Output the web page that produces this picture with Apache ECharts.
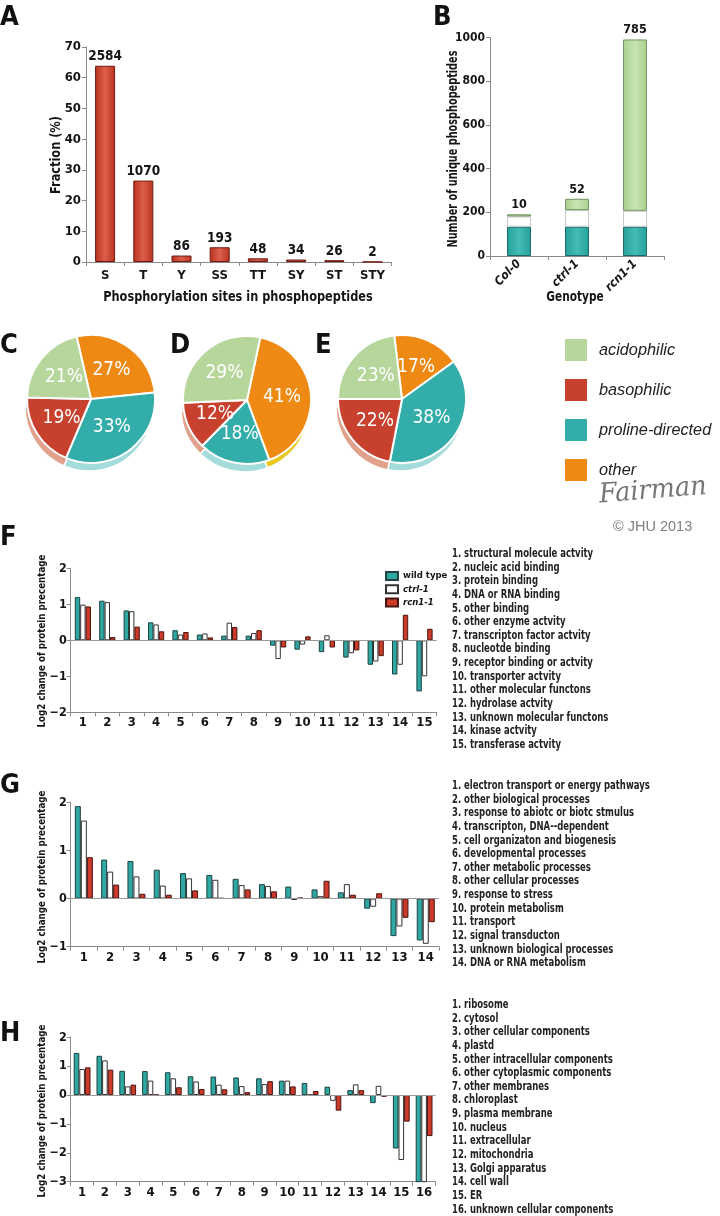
<!DOCTYPE html>
<html>
<head>
<meta charset="utf-8">
<script src="https://cdn.jsdelivr.net/npm/echarts@6/dist/echarts.min.js"></script>
<style>
html,body{margin:0;padding:0;background:#fff;}
#c{width:720px;height:1216px;}
</style>
</head>
<body>
<div id="c"></div>
<script>
// ---------- DATA ----------
const aCats = ['S','T','Y','SS','TT','SY','ST','STY'];
const aFraction = [63.9, 26.5, 2.1, 4.8, 1.2, 0.8, 0.6, 0.05];
const aCounts = [2584, 1070, 86, 193, 48, 34, 26, 2];

const bCats = ['Col-0','ctrl-1','rcn1-1'];
const bShared = [134, 134, 134];
const bWhite = [47, 76, 73];
const bGreen = [10, 52, 785];

const pieNames = ['other','proline-directed','basophilic','acidophilic'];
const legendNames = ['acidophilic','basophilic','proline-directed','other'];
const cVals = [27, 33, 19, 21];
const dVals = [41, 18, 12, 29];
const eVals = [17, 38, 22, 23];

const fCats = ['1','2','3','4','5','6','7','8','9','10','11','12','13','14','15'];
const fWild = [1.20, 1.10, 0.83, 0.50, 0.28, 0.16, 0.13, 0.13, -0.15, -0.26, -0.33, -0.48, -0.68, -0.95, -1.42];
const fCtr  = [0.99, 1.06, 0.81, 0.44, 0.16, 0.19, 0.49, 0.20, -0.52, -0.12, 0.14, -0.36, -0.59, -0.68, -1.00];
const fRcn  = [0.94, 0.09, 0.38, 0.25, 0.23, 0.08, 0.37, 0.28, -0.20, 0.11, -0.20, -0.28, -0.44, 0.71, 0.32];
const fTerms = ['structural molecule actvity','nucleic acid binding','protein binding','DNA or RNA binding','other binding','other enzyme actvity','transcripton factor actvity','nucleotde binding','receptor binding or actvity','transporter actvity','other molecular functons','hydrolase actvity','unknown molecular functons','kinase actvity','transferase actvity'];

const gCats = ['1','2','3','4','5','6','7','8','9','10','11','12','13','14'];
const gWild = [1.92, 0.81, 0.78, 0.60, 0.53, 0.49, 0.41, 0.30, 0.25, 0.19, 0.13, -0.21, -0.78, -0.87];
const gCtr  = [1.62, 0.56, 0.46, 0.27, 0.42, 0.39, 0.28, 0.26, -0.03, 0.05, 0.30, -0.17, -0.58, -0.94];
const gRcn  = [0.86, 0.29, 0.10, 0.08, 0.17, 0.01, 0.19, 0.15, 0.02, 0.37, 0.08, 0.11, -0.40, -0.49];
const gTerms = ['electron transport or energy pathways','other biological processes','response to abiotc or biotc stmulus','transcripton, DNA--dependent','cell organizaton and biogenesis','developmental processes','other metabolic processes','other cellular processes','response to stress','protein metabolism','transport','signal transducton','unknown biological processes','DNA or RNA metabolism'];

const hCats = ['1','2','3','4','5','6','7','8','9','10','11','12','13','14','15','16'];
const hWild = [1.46, 1.36, 0.84, 0.83, 0.79, 0.65, 0.64, 0.61, 0.58, 0.50, 0.42, 0.29, 0.17, -0.28, -1.85, -3.6];
const hCtr  = [0.90, 1.20, 0.30, 0.50, 0.58, 0.47, 0.36, 0.31, 0.38, 0.50, 0.01, -0.20, 0.37, 0.32, -2.25, -3.6];
const hRcn  = [0.96, 0.88, 0.36, 0.01, 0.27, 0.21, 0.20, 0.10, 0.48, 0.30, 0.14, -0.54, 0.17, -0.06, -0.92, -1.42];
const hTerms = ['ribosome','cytosol','other cellular components','plastd','other intracellular components','other cytoplasmic components','other membranes','chloroplast','plasma membrane','nucleus','extracellular','mitochondria','Golgi apparatus','cell wall','ER','unknown cellular components'];

const axisTitleA = ['Phosphorylation sites in phosphopeptides', 'Fraction (%)'];
const axisTitleB = ['Genotype', 'Number of unique phosphopeptides'];
const axisTitleLog = 'Log2 change of protein precentage';

// ---------- STYLE ----------
const FONT = "'Liberation Sans Narrow','DejaVu Sans Condensed','Roboto Condensed',Roboto,sans-serif";
const SANS = "'Liberation Sans',Arial,sans-serif";
const AX = '#8a8a8a';
const TXT = '#151515';
const PIE_COL = {'acidophilic':'#b6d69c','basophilic':'#c8412f','proline-directed':'#33adaa','other':'#ee8a13'};
const RIM_COL = {'acidophilic':'#cfe4bd','basophilic':'#e2a18b','proline-directed':'#a4dbdb','other':'#e8c81e'};
const TEAL = '#2fa8a4', RED = '#cc3a2a';

const minus = v => (v < 0 ? '\u2212' + Math.abs(v) : String(v));

function catAxis(grid, data, extra) {
  return Object.assign({
    type:'category', gridIndex:grid, data:data,
    axisLine:{show:true, onZero:false, lineStyle:{color:AX}},
    axisTick:{show:true, length:4, lineStyle:{color:AX}},
    axisLabel:{color:TXT, fontWeight:'bold', fontSize:13, fontFamily:FONT, margin:4}
  }, extra || {});
}
function valAxis(grid, min, max, interval, extra) {
  return Object.assign({
    type:'value', gridIndex:grid, min:min, max:max, interval:interval,
    splitLine:{show:false},
    axisLine:{show:true, lineStyle:{color:AX}},
    axisTick:{show:true, length:4, lineStyle:{color:AX}},
    axisLabel:{color:TXT, fontWeight:'bold', fontSize:12.5, fontFamily:FONT, margin:4, formatter:minus}
  }, extra || {});
}

function grouped(idx, w, c, r, bw) {
  return [
    {type:'bar', name:'wild type', xAxisIndex:idx, yAxisIndex:idx, data:w, barWidth:bw, barGap:'0%',
     itemStyle:{color:TEAL, borderColor:'#1d4240', borderWidth:1},
     markLine: {silent:true, symbol:'none', label:{show:false}, lineStyle:{color:'#9a9a9a', type:'solid', width:1}, data:[{yAxis:0}]}},
    {type:'bar', name:'ctrl-1', xAxisIndex:idx, yAxisIndex:idx, data:c, barWidth:bw, barGap:'0%',
     itemStyle:{color:'#ffffff', borderColor:'#333', borderWidth:1}},
    {type:'bar', name:'rcn1-1', xAxisIndex:idx, yAxisIndex:idx, data:r, barWidth:bw, barGap:'0%',
     itemStyle:{color:RED, borderColor:'#4a140e', borderWidth:1}}
  ];
}

function pieSeries(vals, cx, cy, start) {
  const r = 64;
  return [
    {type:'pie', silent:true, z:1, radius:r, center:[cx-2, cy+8], startAngle:start, clockwise:true,
     label:{show:false}, labelLine:{show:false}, emphasis:{disabled:true},
     itemStyle:{borderColor:'#fff', borderWidth:1.5},
     data: pieNames.map((n,i)=>({name:n+' rim', value:vals[i], itemStyle:{color:RIM_COL[n]}}))},
    {type:'pie', silent:true, z:2, radius:r, center:[cx, cy], startAngle:start, clockwise:true,
     label:{show:true, position:'inside', color:'#fff', fontSize:19, fontFamily:FONT, formatter:'{c}%'},
     labelLine:{show:false}, emphasis:{disabled:true},
     itemStyle:{borderColor:'#fff', borderWidth:2},
     data: pieNames.map((n,i)=>({name:n, value:vals[i], itemStyle:{color:PIE_COL[n]}}))}
  ];
}

function letter(t, x, y) {
  return {type:'text', x:x, y:y, style:{text:t, fontSize:27, fontWeight:'bold', fontFamily:FONT, fill:'#111'}};
}
function listText(terms, x, y0) {
  return terms.map((t,i)=>({type:'text', x:x, y:y0 + i*13.64, scaleX:0.82,
    style:{text:(i+1)+'. '+t, fontSize:11.5, fontWeight:'bold', fontFamily:FONT, fill:'#222', verticalAlign:'middle'}}));
}
function title(t, x, y, size, sx, vertical) {
  return {type:'text', x:x, y:y, rotation: vertical ? Math.PI/2 : 0, scaleX:sx,
    style:{text:t, fontSize:size, fontWeight:'bold', fontFamily:FONT, fill:TXT, align:'center', verticalAlign:'middle'}};
}

const hgrad = (a,b) => ({type:'linear', x:0, y:0, x2:1, y2:0, colorStops:[{offset:0,color:a},{offset:0.5,color:b},{offset:1,color:a}]});

const option = {
  animation:false,
  backgroundColor:'#fff',
  textStyle:{fontFamily:FONT},
  grid:[
    {left:86, top:47, width:305.6, height:215},
    {left:490, top:37.7, width:174, height:218.3},
    {left:70.7, top:568.3, width:366, height:144},
    {left:70.7, top:802.3, width:368.2, height:144.4},
    {left:70.7, top:1037.3, width:364.8, height:144.4}
  ],
  xAxis:[
    catAxis(0, aCats, {axisLabel:{color:TXT, fontWeight:'bold', fontSize:13, fontFamily:FONT, margin:7}}),
    catAxis(1, bCats, {axisLabel:{color:TXT, fontWeight:'bold', fontStyle:'italic', fontSize:12, fontFamily:FONT, margin:6, rotate:45}}),
    catAxis(2, fCats),
    catAxis(3, gCats),
    catAxis(4, hCats)
  ],
  yAxis:[
    valAxis(0, 0, 70, 10, {axisLabel:{color:TXT, fontWeight:'bold', fontSize:13, fontFamily:FONT, margin:5}}),
    valAxis(1, 0, 1000, 200, {axisLabel:{color:TXT, fontWeight:'bold', fontSize:12, fontFamily:FONT, margin:5, formatter: v => String(v)}}),
    valAxis(2, -2, 2, 1),
    valAxis(3, -1, 2, 1),
    valAxis(4, -3, 2, 1)
  ],
  legend:[
    {data:['wild type','ctrl-1','rcn1-1'], orient:'vertical', left:385, top:571, icon:'rect',
     itemWidth:12, itemHeight:8, itemGap:3.2, padding:0, selectedMode:false,
     formatter: n => n === 'wild type' ? n : '{i|' + n + '}',
     textStyle:{color:TXT, fontWeight:'bold', fontSize:9.5, fontFamily:FONT,
       rich:{i:{fontStyle:'italic', fontWeight:'bold', fontSize:9.5, fontFamily:FONT, color:TXT}}}},
    {data:legendNames, orient:'vertical', left:563, top:337, icon:'rect',
     itemWidth:24, itemHeight:24, itemGap:14, padding:0, selectedMode:false,
     textStyle:{color:'#222', fontStyle:'italic', fontSize:16.3, fontFamily:SANS, padding:[0,0,0,6]}}
  ],
  graphic:[
    letter('A', 0, 4), letter('B', 433, 4), letter('C', 0, 332), letter('D', 170, 332), letter('E', 315, 332),
    letter('F', 0, 524), letter('G', 0, 772), letter('H', 0, 1020),
    title(axisTitleA[0], 238, 297, 14.5, 0.87, false),
    title(axisTitleA[1], 56, 155, 14.5, 0.87, true),
    title(axisTitleB[0], 575, 297, 13.5, 0.87, false),
    title(axisTitleB[1], 453, 149, 13.5, 0.8, true),
    title(axisTitleLog, 42, 641, 11, 0.88, true),
    title(axisTitleLog, 42, 877, 11, 0.88, true),
    title(axisTitleLog, 42, 1111, 11, 0.88, true),
    ...listText(fTerms, 452, 554),
    ...listText(gTerms, 452, 786),
    ...listText(hTerms, 452, 1005),
    {type:'text', x:598, y:482, rotation:0.08, scaleX:0.95, style:{text:'Fairman', fontSize:27, fontStyle:'italic', fontFamily:"'DejaVu Serif',serif", fill:'#777'}},
    {type:'text', x:613, y:519, style:{text:'\u00a9 JHU 2013', fontSize:14.5, fontFamily:SANS, fill:'#808080'}}
  ],
  series:[
    {type:'bar', name:'fraction', xAxisIndex:0, yAxisIndex:0, data:aFraction, barWidth:20,
     itemStyle:{color:hgrad('#b9311f','#dc5f4c'), borderColor:'#6e1a10', borderWidth:1},
     label:{show:true, position:'top', distance:2, color:TXT, fontWeight:'bold', fontSize:13.5, fontFamily:FONT,
       formatter: p => aCounts[p.dataIndex]}},
    {type:'bar', name:'B common', stack:'b', xAxisIndex:1, yAxisIndex:1, data:bShared, barWidth:24,
     itemStyle:{color:hgrad('#26a09b','#44bcb6'), borderColor:'#1b6b67', borderWidth:1}},
    {type:'bar', name:'B white', stack:'b', xAxisIndex:1, yAxisIndex:1, data:bWhite, barWidth:24,
     itemStyle:{color:'#ffffff', borderColor:'#c8c8c8', borderWidth:1}},
    {type:'bar', name:'B unique', stack:'b', xAxisIndex:1, yAxisIndex:1, data:bGreen, barWidth:24,
     itemStyle:{color:hgrad('#a9cf8d','#c8e4b2'), borderColor:'#6f9462', borderWidth:1},
     label:{show:true, position:'top', distance:3, color:TXT, fontWeight:'bold', fontSize:12.5, fontFamily:FONT}},
    ...pieSeries(cVals, 91, 399, 103),
    ...pieSeries(dVals, 247, 400, 78),
    ...pieSeries(eVals, 402, 399, 97),
    ...grouped(2, fWild, fCtr, fRcn, 5.4),
    ...grouped(3, gWild, gCtr, gRcn, 6),
    ...grouped(4, hWild, hCtr, hRcn, 5.6)
  ]
};

const chart = echarts.init(document.getElementById('c'), null, {renderer:'canvas', width:720, height:1216});
chart.setOption(option);
</script>
</body>
</html>
